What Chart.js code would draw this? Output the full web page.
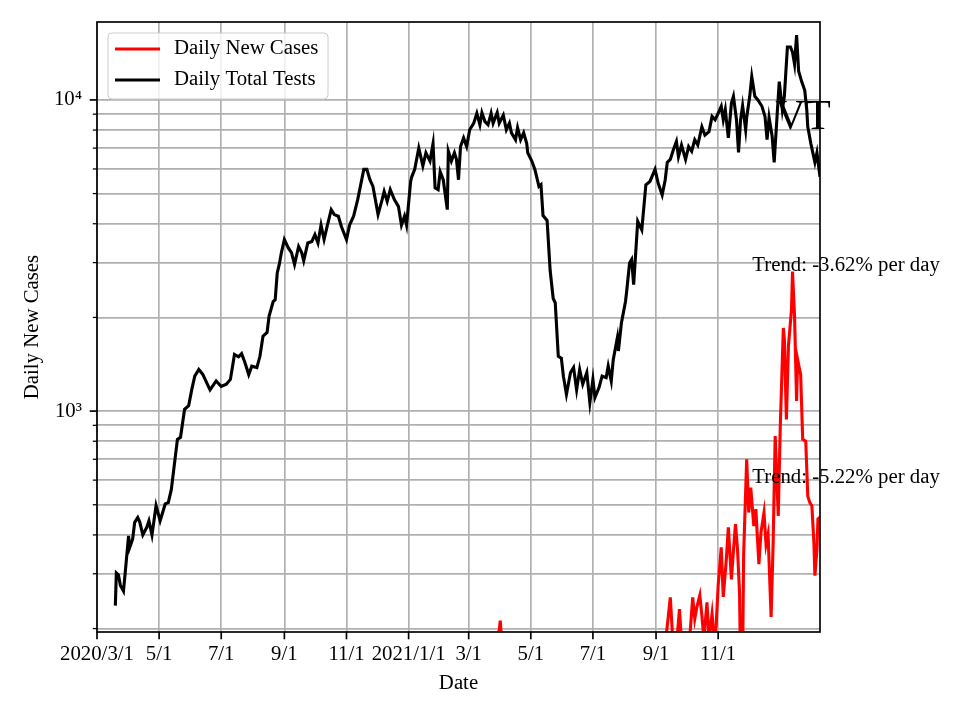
<!DOCTYPE html>
<html>
<head>
<meta charset="utf-8">
<title>VT daily new cases and tests</title>
<script src="https://cdn.jsdelivr.net/npm/chart.js@4.4.1/dist/chart.umd.min.js"></script>
<style>
  html, body { margin: 0; padding: 0; background: #fff; }
  canvas { display: block; }
</style>
</head>
<body>
<canvas id="vt-chart" width="960" height="720"></canvas>
<script>
// x values are days counted from 2020/3/1
var xTickDays   = [0, 61, 122, 184, 245, 306, 365, 426, 487, 549, 610];
var xTickLabels = ['2020/3/1', '5/1', '7/1', '9/1', '11/1', '2021/1/1', '3/1', '5/1', '7/1', '9/1', '11/1'];
var yTickValues = [200, 300, 400, 500, 600, 700, 800, 900, 1000,
                   2000, 3000, 4000, 5000, 6000, 7000, 8000, 9000, 10000];
var yTickLabels = { 1000: '10\u00b3', 10000: '10\u2074' };

var testDays = [18, 19, 21, 23, 26, 28, 31, 32, 35, 37,
  40, 42, 45, 49, 51, 54, 58, 62, 67, 70,
  73, 77, 79, 82, 86, 90, 93, 96, 100, 104,
  111, 117, 122, 127, 131, 135, 139, 142, 145, 149,
  152, 157, 160, 163, 167, 169, 173, 175, 177, 179,
  181, 184, 188, 191, 194, 198, 201, 203, 207, 211,
  214, 217, 220, 223, 226, 230, 233, 237, 240, 245,
  248, 252, 256, 258, 262, 265, 268, 271, 276, 280,
  282, 285, 288, 292, 296, 299, 302, 304, 308, 309,
  312, 316, 320, 323, 327, 330, 332, 335, 337, 340,
  344, 345, 348, 351, 353, 355, 357, 360, 363, 366,
  370, 373, 376, 378, 381, 384, 387, 389, 393, 395,
  399, 402, 405, 407, 411, 413, 416, 419, 422, 423,
  427, 430, 434, 436, 438, 442, 445, 448, 450, 453,
  456, 458, 461, 465, 468, 471, 474, 477, 481, 484,
  487, 489, 493, 496, 500, 502, 505, 507, 511, 512,
  515, 519, 520, 523, 525, 527, 529, 531, 535, 539,
  543, 548, 551, 555, 558, 560, 563, 566, 569, 571,
  574, 578, 581, 584, 587, 590, 594, 597, 601, 604,
  607, 610, 613, 615, 617, 620, 623, 625, 628, 630,
  632, 634, 637, 638, 641, 643, 646, 649, 653, 656,
  658, 660, 663, 665, 668, 670, 673, 675, 678, 681,
  683, 685, 687, 689, 692, 695, 697, 698, 701, 703,
  705, 707, 710];
var testValues = [237, 302, 298, 275, 264, 310, 397, 364, 388, 439,
  455, 440, 400, 424, 444, 400, 497, 444, 503, 508,
  560, 718, 811, 824, 1013, 1040, 1170, 1295, 1360, 1310,
  1170, 1250, 1200, 1220, 1264, 1520, 1494, 1530, 1440, 1310,
  1394, 1380, 1500, 1740, 1790, 2020, 2250, 2280, 2780, 2960,
  3220, 3560, 3340, 3230, 2960, 3380, 3230, 3040, 3470, 3510,
  3690, 3470, 3960, 3560, 3920, 4440, 4280, 4230, 3920, 3560,
  3960, 4230, 4780, 5150, 5980, 5980, 5540, 5270, 4280, 4780,
  5080, 4720, 5150, 4780, 4550, 3960, 4230, 3960, 5470, 5650,
  5980, 7000, 6140, 6760, 6360, 7240, 5220, 5150, 5880, 5540,
  4440, 6840, 6360, 6760, 6440, 5540, 7080, 7550, 7080, 8020,
  8420, 9060, 8320, 9100, 8520, 8320, 9060, 8420, 9100, 8420,
  8940, 8020, 8420, 7840, 7450, 8140, 7450, 7840, 7240, 6760,
  6360, 5980, 5270, 5340, 4250, 4100, 2830, 2300, 2230, 1500,
  1480, 1295, 1131, 1330, 1380, 1170, 1360, 1220, 1330, 1065,
  1265, 1105, 1190, 1295, 1280, 1395, 1250, 1466, 1720, 1560,
  1920, 2250, 2400, 2990, 3070, 2550, 3220, 4070, 3820, 5340,
  5470, 5980, 5410, 4950, 5540, 6300, 6440, 6920, 7360, 6570,
  7160, 6440, 7080, 6840, 7450, 7160, 8200, 7700, 7900, 8850,
  8630, 9060, 9540, 8630, 9300, 7550, 9750, 10270, 8630, 6780,
  8630, 9580, 8020, 8780, 10270, 11880, 10270, 10000, 9540, 8850,
  7450, 8780, 7640, 6300, 9060, 11450, 9300, 10270, 14800, 14800,
  14250, 13030, 16150, 12380, 11450, 10740, 9300, 8200, 7240, 6760,
  6300, 6760, 5660];

var caseDays = [370, 392, 396, 399, 420, 480, 540, 556, 559, 563,
  566, 569, 572, 574, 582, 585, 587, 589, 592, 594,
  596, 599, 601, 604, 606, 608, 610, 613, 615, 618,
  620, 623, 625, 627, 629, 631, 632, 634, 635, 638,
  640, 642, 645, 647, 650, 652, 655, 657, 659, 662,
  664, 666, 669, 671, 674, 675, 677, 679, 682, 683,
  685, 687, 688, 691, 693, 696, 698, 700, 702, 704,
  705, 707, 708, 710];
var caseValues = [150, 160, 212, 150, 110, 30, 60, 150, 190, 252,
  170, 175, 231, 180, 185, 252, 215, 234, 256, 220,
  185, 243, 185, 223, 185, 204, 275, 365, 253, 334,
  423, 288, 356, 433, 360, 260, 150, 160, 345, 700,
  472, 568, 427, 484, 322, 407, 472, 373, 402, 218,
  378, 831, 460, 895, 1850, 1700, 940, 1620, 2120, 2810,
  2020, 1077, 1466, 1310, 811, 800, 533, 508, 497, 378,
  296, 360, 450, 456];

var stateName   = 'VT';
var trendLabels = ['Trend: -3.62% per day', 'Trend: -5.22% per day'];

function toPoints(days, values) {
    return days.map(function(d, i) { return { x: d, y: values[i] }; });
}

var FONT = '"Liberation Serif", "Times New Roman", serif';
Chart.defaults.font.family = FONT;
Chart.defaults.font.size = 20.8;
Chart.defaults.color = '#000';

// frame, tick marks, annotations and legend, drawn like matplotlib does
var decorPlugin = {
    id: 'decor',
    afterDatasetsDraw: function(chart) {
        var ctx = chart.ctx, a = chart.chartArea;
        var xs = chart.scales.x, ys = chart.scales.y;
        ctx.save();
        ctx.strokeStyle = '#000';
        ctx.lineWidth = 1.67;
        xTickDays.forEach(function(d) {
            var px = xs.getPixelForValue(d);
            ctx.beginPath(); ctx.moveTo(px, a.bottom); ctx.lineTo(px, a.bottom + 7.3); ctx.stroke();
        });
        yTickValues.forEach(function(v) {
            var major = yTickLabels[v] !== undefined;
            var py = ys.getPixelForValue(v);
            ctx.lineWidth = major ? 1.67 : 1.25;
            ctx.beginPath(); ctx.moveTo(a.left, py); ctx.lineTo(a.left - (major ? 7.3 : 4.2), py); ctx.stroke();
        });
        ctx.lineWidth = 1.67;
        ctx.strokeRect(a.left, a.top, a.right - a.left, a.bottom - a.top);

        // text annotations
        ctx.fillStyle = '#000';
        ctx.textAlign = 'left';
        ctx.textBaseline = 'alphabetic';
        ctx.font = '20.8px ' + FONT;
        ctx.fillText(trendLabels[0], xs.getPixelForValue(643.5), ys.getPixelForValue(2826));
        ctx.fillText(trendLabels[1], xs.getPixelForValue(643.5), ys.getPixelForValue(589));
        ctx.font = '41.7px ' + FONT;
        ctx.fillText(stateName, xs.getPixelForValue(666), ys.getPixelForValue(8070));

        // legend
        var lx = a.left + 11, ly = a.top + 11, lw = 220, lh = 66, r = 4;
        ctx.beginPath();
        ctx.moveTo(lx + r, ly);
        ctx.arcTo(lx + lw, ly, lx + lw, ly + lh, r);
        ctx.arcTo(lx + lw, ly + lh, lx, ly + lh, r);
        ctx.arcTo(lx, ly + lh, lx, ly, r);
        ctx.arcTo(lx, ly, lx + lw, ly, r);
        ctx.closePath();
        ctx.fillStyle = 'rgba(255,255,255,0.8)';
        ctx.fill();
        ctx.strokeStyle = '#cccccc';
        ctx.lineWidth = 1;
        ctx.stroke();
        ctx.font = '20.8px ' + FONT;
        ctx.textBaseline = 'middle';
        chart.data.datasets.forEach(function(ds, i) {
            var yy = ly + 16 + i * 31;
            ctx.strokeStyle = ds.borderColor;
            ctx.lineWidth = 3.1;
            ctx.beginPath(); ctx.moveTo(lx + 7, yy); ctx.lineTo(lx + 52, yy); ctx.stroke();
            ctx.fillStyle = '#000';
            ctx.fillText(ds.label, lx + 66, yy);
        });
        ctx.restore();
    }
};

new Chart(document.getElementById('vt-chart').getContext('2d'), {
    type: 'line',
    data: {
        datasets: [{
            label: 'Daily New Cases',
            data: toPoints(caseDays, caseValues),
            borderColor: '#ff0000',
            borderWidth: 3.1,
            pointRadius: 0,
            fill: false,
            clip: 0,
            order: 1
        }, {
            label: 'Daily Total Tests',
            data: toPoints(testDays, testValues),
            borderColor: '#000000',
            borderWidth: 3.1,
            pointRadius: 0,
            fill: false,
            clip: 0,
            order: 0
        }]
    },
    options: {
        responsive: false,
        animation: false,
        events: [],
        layout: { padding: { left: 0, right: 140, top: 22, bottom: 0 } },
        plugins: { legend: { display: false }, tooltip: { enabled: false } },
        scales: {
            x: {
                type: 'linear',
                min: 0,
                max: 710,
                afterFit: function(s) { s.height = 88; s.paddingLeft = 0; s.paddingRight = 0; },
                afterBuildTicks: function(s) {
                    s.ticks = xTickDays.map(function(d) { return { value: d }; });
                },
                ticks: {
                    autoSkip: false,
                    maxRotation: 0,
                    padding: 10,
                    callback: function(v) { return xTickLabels[xTickDays.indexOf(v)]; }
                },
                grid: { color: '#b0b0b0', lineWidth: 1.67, drawTicks: false },
                border: { display: false },
                title: { display: true, text: 'Date', padding: { top: 0, bottom: 24 } }
            },
            y: {
                type: 'logarithmic',
                min: 195,
                max: 17800,
                afterFit: function(s) { s.width = 97; s.paddingTop = 0; s.paddingBottom = 0; },
                afterBuildTicks: function(s) {
                    s.ticks = yTickValues.map(function(v) { return { value: v }; });
                },
                ticks: {
                    autoSkip: false,
                    padding: 15,
                    callback: function(v) { return yTickLabels[v] || ''; }
                },
                grid: { color: '#b0b0b0', lineWidth: 1.67, drawTicks: false },
                border: { display: false },
                title: { display: true, text: 'Daily New Cases', padding: { top: 20, bottom: 0 } }
            }
        }
    },
    plugins: [decorPlugin]
});
</script>
</body>
</html>
